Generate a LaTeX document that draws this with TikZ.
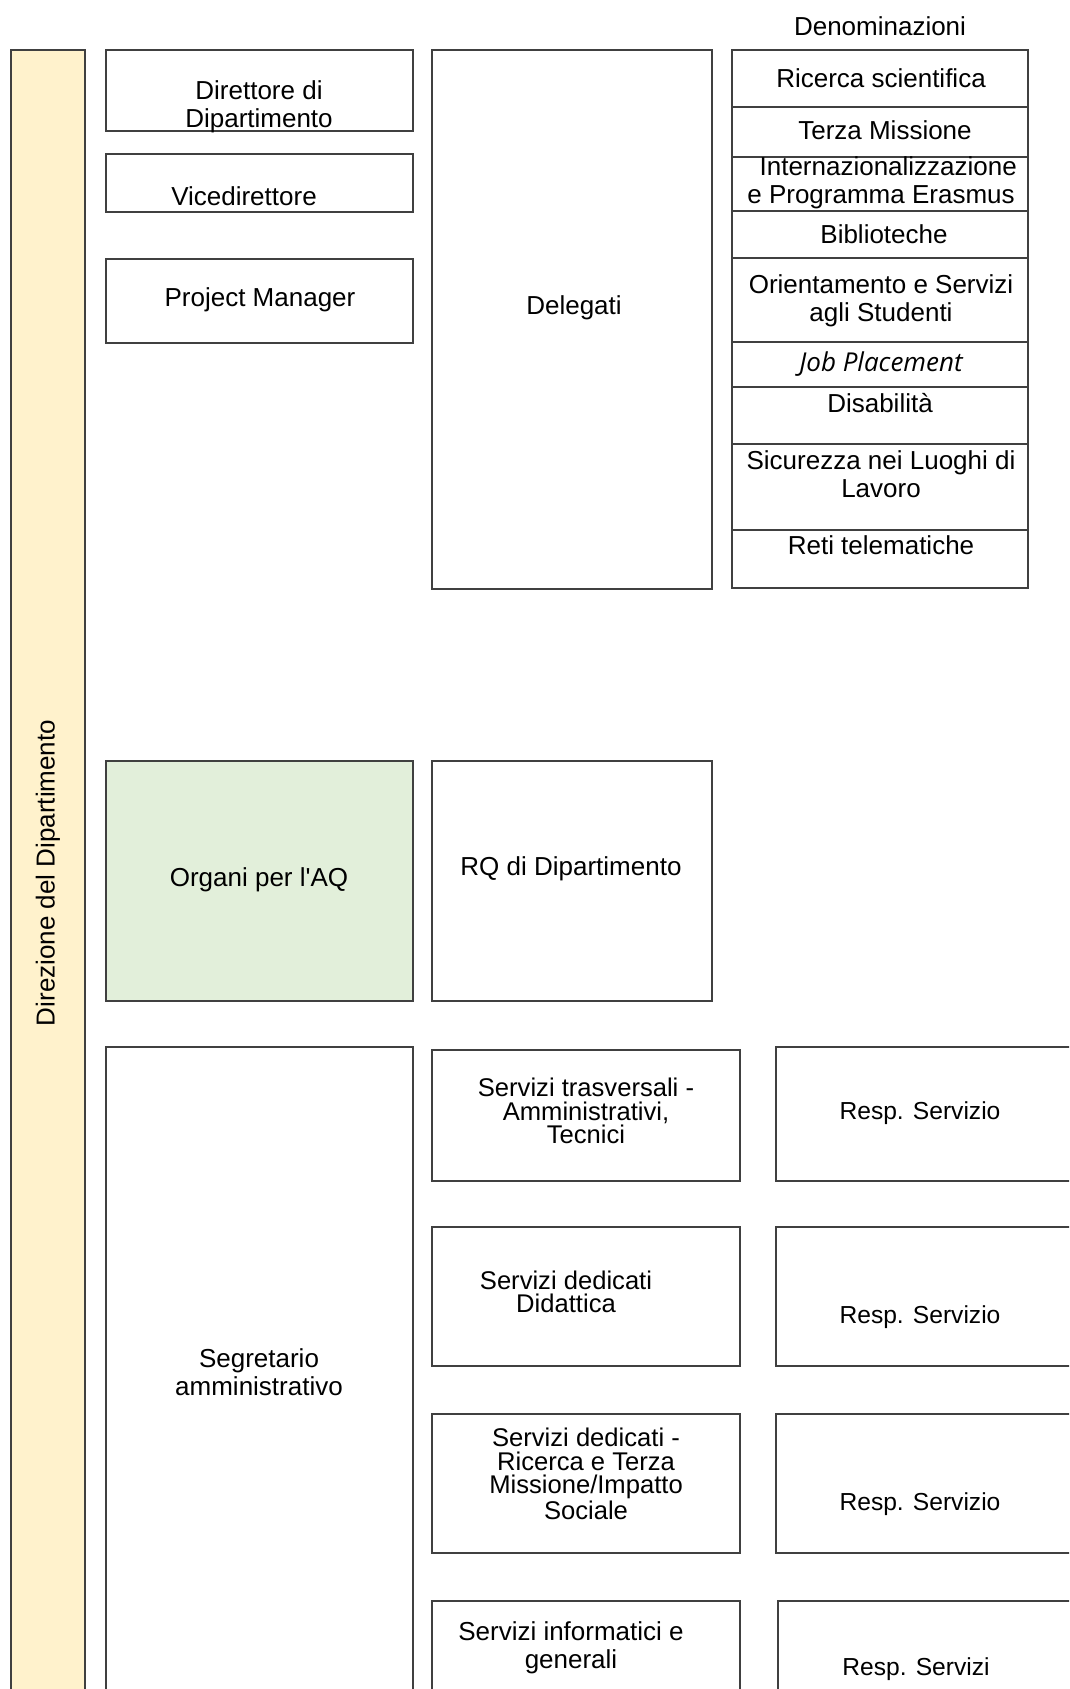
\documentclass[tikz,border=0pt]{standalone}
\usepackage{fontspec}
\setmainfont{Liberation Sans}[Ligatures=TeXOff]
\newfontfamily\jobfont{Open Sans}
\definecolor{bary}{HTML}{FFF2CC}
\definecolor{aqg}{HTML}{E2EFDA}
\definecolor{edge}{HTML}{404040}
\begin{document}
\begin{tikzpicture}[x=0.5pt,y=-0.5pt,
  boxline/.style={draw=edge,line width=0.7pt},
  txt/.style={inner sep=0pt,align=center,font=\fontsize{13}{14}\selectfont},
  stxt/.style={inner sep=0pt,align=center,font=\fontsize{12.8}{11.8}\selectfont},
  rtxt/.style={inner sep=0pt,align=center,font=\fontsize{12.3}{11.8}\selectfont}]
\clip (0,0) rectangle (1069,1689);
\fill[white] (0,0) rectangle (1069,1689);
% left bar
\draw[boxline,fill=bary] (11,50) rectangle (85,1710);
\node[txt,rotate=90] (dir0) at (48,873) {Direzione del Dipartimento};
% top-left boxes
\draw[boxline] (106,50) rectangle (413,131);
\node[txt] (dirt) at (259,107) {Direttore di\\Dipartimento};
\draw[boxline] (106,154) rectangle (413,212);
\node[txt] (vice) at (244,196) {Vicedirettore};
\draw[boxline] (106,259) rectangle (413,343);
\node[txt] (pm) at (260,300) {Project Manager};
\draw[boxline] (432,50) rectangle (712,589);
\node[txt] (deleg) at (574,308) {Delegati};
% denominazioni column
\node[txt] (den) at (880,26) {Denominazioni};
\draw[boxline] (732,50) rectangle (1028,588);
\foreach \yy in {107,157,211,258,342,387,444,530}
  \draw[boxline] (732,\yy) -- (1028,\yy);
\node[txt] (d1) at (881,78) {Ricerca scientifica};
\node[txt] (d2) at (885,130) {Terza Missione};
\node[txt] (d3) at (881,183) {\ \ Internazionalizzazione\\e Programma Erasmus};
\node[txt] (d4) at (884,234) {Biblioteche};
\node[txt] (d5) at (881,301) {Orientamento e Servizi\\agli Studenti};
\node[inner sep=0pt,font=\fontsize{13}{14}\selectfont\jobfont\itshape] (d6) at (881,364) {Job Placement};
\node[txt] (d7) at (880,403) {Disabilità};
\node[txt] (d8) at (881,474) {Sicurezza nei Luoghi di\\Lavoro};
\node[txt] (d9) at (881,545) {Reti telematiche};
% AQ
\draw[boxline,fill=aqg] (106,761) rectangle (413,1001);
\node[txt] (aq) at (259,880) {Organi per l'AQ};
\draw[boxline] (432,761) rectangle (712,1001);
\node[txt] (rq) at (571,869) {RQ di Dipartimento};
% segretario
\draw[boxline] (106,1047) rectangle (413,1710);
\node[txt] (segr) at (259,1372) {Segretario\\amministrativo};
% services
\draw[boxline] (432,1050) rectangle (740,1181);
\node[stxt] (s1) at (586,1111) {Servizi trasversali -\\Amministrativi,\\Tecnici};
\draw[boxline] (432,1227) rectangle (740,1366);
\node[stxt] (s2) at (566,1292) {Servizi dedicati\\Didattica};
\draw[boxline] (432,1414) rectangle (740,1553);
\node[stxt] (s3) at (586,1474) {Servizi dedicati -\\Ricerca e Terza\\Missione/Impatto\\Sociale};
\draw[boxline] (432,1601) rectangle (740,1710);
\node[txt] (s4) at (571,1648) {Servizi informatici e\\generali};
% responsabili
\draw[boxline] (776,1047) rectangle (1090,1181);
\node[rtxt] (r1) at (920,1113) {Resp. Servizio};
\draw[boxline] (776,1227) rectangle (1090,1366);
\node[rtxt] (r2) at (920,1317) {Resp. Servizio};
\draw[boxline] (776,1414) rectangle (1090,1553);
\node[rtxt] (r3) at (920,1504) {Resp. Servizio};
\draw[boxline] (778,1601) rectangle (1090,1710);
\node[rtxt] (r4) at (916,1669) {Resp. Servizi};
\end{tikzpicture}
\end{document}
